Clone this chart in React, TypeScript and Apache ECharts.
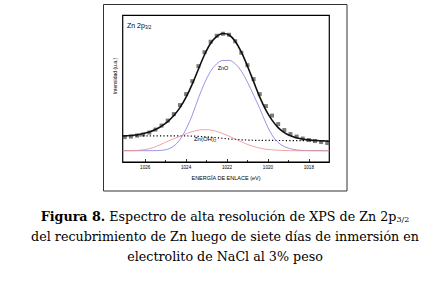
import React, { useEffect, useRef } from "react";
import * as echarts from "echarts";

// Binding energy (eV) and intensity (a.u.)
const envelopeX = [1027.1, 1026.7, 1026.4, 1026.1, 1025.8, 1025.5, 1025.2, 1024.9, 1024.6, 1024.3, 1024.0, 1023.7, 1023.4, 1023.1, 1022.8, 1022.5, 1022.2, 1021.9, 1021.6, 1021.3, 1021.0, 1020.7, 1020.4, 1020.1, 1019.8, 1019.5, 1019.2, 1018.9, 1018.6, 1018.3, 1018.0, 1017.6, 1017.0];
const envelopeY = [26, 26.5, 27.3, 28.5, 30, 32.5, 36, 40.5, 46.5, 54.5, 65, 78, 93, 107.5, 119, 126, 128.7, 127.3, 121, 110, 96, 80.5, 65, 52, 42, 34.5, 29.5, 26.3, 24.3, 23, 22.2, 21.5, 20.8];

const znoX = [1027.1, 1025.6, 1025.0, 1024.6, 1024.3, 1024.0, 1023.7, 1023.4, 1023.1, 1022.8, 1022.5, 1022.2, 1021.9, 1021.6, 1021.3, 1021.0, 1020.7, 1020.4, 1020.1, 1019.8, 1019.5, 1019.2, 1018.8, 1018.3, 1017.0];
const znoY = [11.3, 11.4, 12.3, 16, 22.5, 33, 47, 64, 79, 91, 98.5, 101.8, 101.8, 98.5, 91, 80, 67, 53.7, 39, 27, 19.5, 15.5, 12.8, 11.6, 11.3];

const znohX = [1027.1, 1026.5, 1026.0, 1025.6, 1025.3, 1025.0, 1024.7, 1024.4, 1024.1, 1023.8, 1023.5, 1023.2, 1022.9, 1022.6, 1022.3, 1022.0, 1021.7, 1021.4, 1021.1, 1020.8, 1020.5, 1020.2, 1019.8, 1019.3, 1018.5, 1017.0];
const znohY = [11.3, 11.5, 12.5, 14.5, 17, 19.8, 22.5, 25, 27.5, 29.8, 31.5, 32.4, 32.3, 31.2, 29.2, 26.8, 24, 21.2, 18.5, 16.2, 14.4, 13.1, 12.2, 11.6, 11.3, 11.3];

const bgX = [1027.1, 1024.0, 1023.5, 1023.0, 1022.5, 1022.0, 1021.5, 1021.0, 1020.5, 1017.0];
const bgY = [26.3, 26.1, 25.8, 25.2, 24.3, 23.3, 22.5, 22, 21.7, 21.3];

const dataX = [1027.0, 1026.7, 1026.4, 1026.1, 1025.8, 1025.5, 1025.2, 1024.9, 1024.6, 1024.3, 1024.0, 1023.7, 1023.4, 1023.1, 1022.8, 1022.5, 1022.2, 1021.9, 1021.6, 1021.3, 1021.0, 1020.7, 1020.4, 1020.1, 1019.8, 1019.5, 1019.2, 1018.9, 1018.6, 1018.3, 1018.0, 1017.7, 1017.4, 1017.1];
const dataY = [25, 25.5, 26.5, 27.5, 29.5, 32.5, 36.5, 41.5, 48, 57, 68, 81, 96, 110, 120.5, 126.5, 128.5, 127.5, 121, 109.5, 97, 83, 68, 56, 46.5, 38, 32, 28, 25.5, 23.5, 22, 21, 20, 19];

const majorTicks = [1018, 1020, 1022, 1024, 1026];
const minorTicks = [1019, 1021, 1023, 1025];

const zip = (xs: number[], ys: number[]) => xs.map((x, i) => [x, ys[i]]);

const AX_FONT = "Arial, 'Liberation Sans', sans-serif";
const SERIF = "'DejaVu Serif', 'Liberation Serif', serif";

export default function App() {
  const ref = useRef<HTMLDivElement>(null);
  useEffect(() => {
    document.body.style.margin = "0";
    const chart = echarts.init(ref.current!, undefined, { renderer: "svg" });
    const xRange = { min: 1017.0, max: 1027.1 };
    const lineCommon = { smooth: 0.35, showSymbol: false };
    chart.setOption({
      animation: false,
      backgroundColor: "#fff",
      grid: {
        left: 122.7,
        top: 15.3,
        right: 107.7,
        bottom: 121,
        show: true,
        borderColor: "#000",
        borderWidth: 1.2,
        backgroundColor: "transparent",
      },
      xAxis: [
        {
          type: "value",
          inverse: true,
          ...xRange,
          name: "ENERGÍA DE ENLACE (eV)",
          nameLocation: "middle",
          nameGap: 13,
          nameTextStyle: { fontSize: 5.5, color: "#000", fontFamily: AX_FONT },
          axisLine: { show: true, onZero: false, lineStyle: { color: "#000", width: 1.2 } },
          axisTick: { show: true, inside: true, length: 3, customValues: majorTicks, lineStyle: { color: "#000", width: 0.8 } },
          axisLabel: {
            show: true,
            customValues: majorTicks,
            formatter: (v: number) => String(Math.round(v)),
            fontSize: 4.6,
            margin: 3,
            color: "#000",
            fontFamily: AX_FONT,
          },
          splitLine: { show: false },
        },
        {
          type: "value",
          inverse: true,
          ...xRange,
          position: "bottom",
          axisLine: { show: false },
          axisTick: { show: true, inside: true, length: 2, customValues: minorTicks, lineStyle: { color: "#000", width: 0.8 } },
          axisLabel: { show: false },
          splitLine: { show: false },
        },
      ],
      yAxis: {
        type: "value",
        min: 0,
        max: 147,
        axisLine: { show: false },
        axisTick: { show: false },
        axisLabel: { show: false },
        splitLine: { show: false },
      },
      series: [
        {
          type: "line",
          name: "Fondo",
          data: zip(bgX, bgY),
          ...lineCommon,
          lineStyle: { color: "#000", width: 1.2, type: [1.2, 2.2] },
        },
        {
          type: "line",
          name: "ZnO",
          data: zip(znoX, znoY),
          ...lineCommon,
          lineStyle: { color: "#7c7ce0", width: 0.8 },
        },
        {
          type: "line",
          name: "Zn(OH)2",
          data: zip(znohX, znohY),
          ...lineCommon,
          lineStyle: { color: "#ee8c8c", width: 0.8 },
        },
        {
          type: "scatter",
          name: "Datos",
          data: zip(dataX, dataY),
          symbol: "rect",
          symbolSize: 4,
          itemStyle: { color: "#5a5a5a" },
        },
        {
          type: "line",
          name: "Ajuste",
          data: zip(envelopeX, envelopeY),
          ...lineCommon,
          lineStyle: { color: "#111", width: 1.6 },
        },
      ],
      graphic: [
        {
          type: "rect",
          shape: { x: 103.5, y: 4.5, width: 243.5, height: 186.5 },
          style: { fill: "none", stroke: "#333", lineWidth: 1 },
          silent: true,
        },
        {
          type: "text",
          x: 127,
          y: 25,
          style: {
            text: "Zn 2p{s|3/2}",
            fontFamily: AX_FONT,
            fontSize: 7,
            fill: "#000",
            verticalAlign: "middle",
            rich: { s: { fontSize: 4.5, fontFamily: AX_FONT, padding: [4, 0, 0, 0], fill: "#000" } },
          },
        },
        {
          type: "text",
          x: 223,
          y: 68,
          style: { text: "ZnO", fontFamily: AX_FONT, fontSize: 5.5, fill: "#000", align: "center", verticalAlign: "middle" },
        },
        {
          type: "text",
          x: 205,
          y: 138.5,
          style: {
            text: "Zn(OH){s|2}",
            fontFamily: AX_FONT,
            fontSize: 6,
            fill: "#000",
            align: "center",
            verticalAlign: "middle",
            backgroundColor: "#fff",
            rich: { s: { fontSize: 4, fontFamily: AX_FONT, padding: [3, 0, 0, 0], fill: "#000" } },
          },
        },
        {
          type: "text",
          x: 114.5,
          y: 76,
          rotation: Math.PI / 2,
          style: { text: "Intensidad (u.a.)", fontFamily: AX_FONT, fontSize: 5, fill: "#000", align: "center", verticalAlign: "middle" },
        },
        {
          type: "text",
          x: 225,
          y: 216,
          style: {
            text: "{b|Figura 8.} Espectro de alta resolución de XPS de Zn 2p{s|3/2}",
            fontFamily: SERIF,
            fontSize: 12.7,
            fill: "#000",
            align: "center",
            verticalAlign: "middle",
            rich: {
              b: { fontFamily: SERIF, fontSize: 12.7, fontWeight: "bold", fill: "#000" },
              s: { fontFamily: SERIF, fontSize: 8, fill: "#000", padding: [7, 0, 0, 0] },
            },
          },
        },
        {
          type: "text",
          x: 225,
          y: 236,
          style: {
            text: "del recubrimiento de Zn luego de siete días de inmersión en",
            fontFamily: SERIF,
            fontSize: 12.7,
            fill: "#000",
            align: "center",
            verticalAlign: "middle",
          },
        },
        {
          type: "text",
          x: 225,
          y: 256,
          style: {
            text: "electrolito de NaCl al 3% peso",
            fontFamily: SERIF,
            fontSize: 12.7,
            fill: "#000",
            align: "center",
            verticalAlign: "middle",
          },
        },
      ],
    });
    return () => chart.dispose();
  }, []);
  return <div ref={ref} style={{ width: 437, height: 283 }} />;
}
